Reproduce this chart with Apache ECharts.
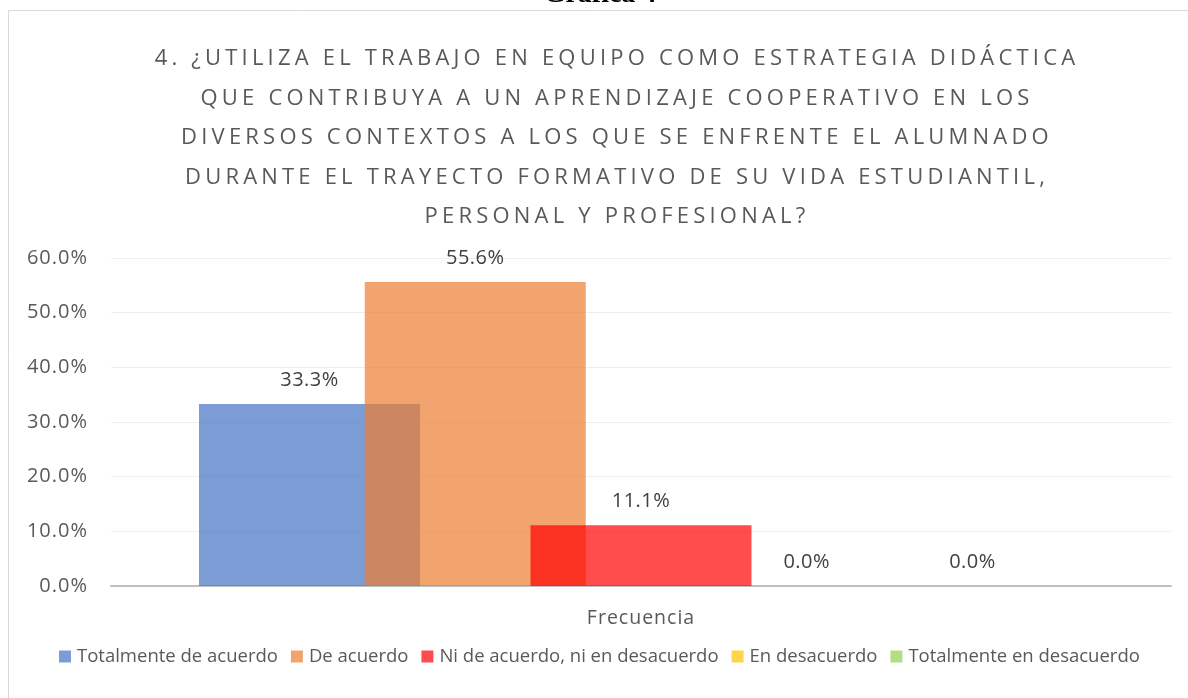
<!DOCTYPE html>
<html><head><meta charset="utf-8">
<script src="https://cdn.jsdelivr.net/npm/echarts@6/dist/echarts.min.js"></script>
<style>html,body{margin:0;padding:0;background:#fff}#c{width:1188px;height:698px}</style>
</head><body><div id="c"></div>
<script>
const categories = ['Frecuencia'];
const seriesNames = ['Totalmente de acuerdo','De acuerdo','Ni de acuerdo, ni en desacuerdo','En desacuerdo','Totalmente en desacuerdo'];
const seriesValues = [[0.333],[0.556],[0.111],[0.0],[0.0]];
const colors = ['rgba(68,114,196,0.7)','rgba(237,125,49,0.7)','rgba(255,0,0,0.7)','rgba(255,192,0,0.7)','rgba(146,208,80,0.7)'];
const yTicks = [0, 0.1, 0.2, 0.3, 0.4, 0.5, 0.6];
const titleLines = ['4. ¿UTILIZA EL TRABAJO EN EQUIPO COMO ESTRATEGIA DIDÁCTICA','QUE CONTRIBUYA A UN APRENDIZAJE COOPERATIVO EN LOS','DIVERSOS CONTEXTOS A LOS QUE SE ENFRENTE EL ALUMNADO','DURANTE EL TRAYECTO FORMATIVO DE SU VIDA ESTUDIANTIL,','PERSONAL Y PROFESIONAL?'];
const headerText = 'Gráfica 4';

// letter spacing support: a font family marker "lsN" (N in tenths of px) sets canvas letterSpacing
(function(){
  const P = CanvasRenderingContext2D.prototype;
  const of = P.fillText;
  P.fillText = function(t,x,y,m){
    if ('letterSpacing' in this) {
      const mm = /ls(\d+)/.exec(this.font || '');
      this.letterSpacing = mm ? (parseInt(mm[1],10)/10) + 'px' : '0px';
    }
    const r = m === undefined ? of.call(this,t,x,y) : of.call(this,t,x,y,m);
    if ('letterSpacing' in this) this.letterSpacing = '0px';
    return r;
  };
})();

const chart = echarts.init(document.getElementById('c'), null, {renderer:'canvas'});
const font = '"Open Sans"';
chart.setOption({
  animation:false,
  color: colors,
  title:{
    text: titleLines.join('\n'),
    left: 612, top: 34, textAlign:'center',
    textStyle:{fontFamily:font+', ls42', fontWeight:400, fontSize:22, color:'#595959', lineHeight:39.5}
  },
  graphic:[
    {type:'rect', shape:{x:8.5,y:10.5,width:1200,height:700}, style:{fill:'none',stroke:'#d9d9d9',lineWidth:1}, z:-1},
    {type:'text', x:600, y:9, z:10, style:{text:headerText, align:'center', verticalAlign:'bottom', textAlign:'center', textVerticalAlign:'bottom', fontFamily:'"Liberation Serif"', fontWeight:'bold', fontSize:28, fill:'#000'}}
  ],
  legend:{
    top: 642, left:54, itemWidth:12, itemHeight:12, itemGap:13,
    icon:'rect',
    textStyle:{fontFamily:font, fontSize:18.5, color:'#595959', padding:[0,0,0,1]},
    data: seriesNames
  },
  grid:{left:111, right:17, top:258, bottom:112, containLabel:false},
  xAxis:{
    type:'category', data:categories,
    axisLine:{lineStyle:{color:'#bfbfbf', width:2}},
    axisTick:{show:false},
    axisLabel:{fontFamily:font+', ls10', fontSize:19.5, color:'#595959', margin:22}
  },
  yAxis:{
    type:'value', min:yTicks[0], max:yTicks[yTicks.length-1], interval:0.1,
    axisLine:{show:false}, axisTick:{show:false},
    splitLine:{lineStyle:{color:'#eeeeee', width:1}},
    axisLabel:{fontFamily:font+', ls10', fontSize:20, color:'#595959', margin:23,
      formatter:v=>(v*100).toFixed(1)+'%'}
  },
  series: seriesNames.map((n,i)=>({
    name:n, type:'bar', data:seriesValues[i],
    barWidth:221, barGap:'-25%',
    itemStyle:{color:colors[i]},
    label:{show:true, position:'top', distance:14, fontFamily:font+', ls5', fontSize:20, color:'#404040',
      formatter:p=>(p.value*100).toFixed(1)+'%'}
  }))
});
</script></body></html>
